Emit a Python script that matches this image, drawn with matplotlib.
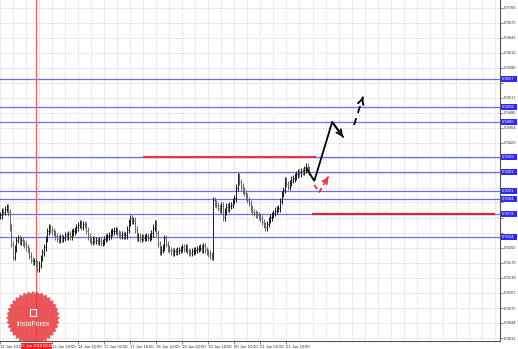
import matplotlib
matplotlib.use("Agg")
import matplotlib.pyplot as plt
from matplotlib.patches import Rectangle, Polygon
import numpy as np

# ---------------- data ----------------
closes = [
    0.9270, 0.9278, 0.9277, 0.9283, 0.9286, 0.9276, 0.9245, 0.9210, 0.9182, 0.9200,
    0.9218, 0.9222, 0.9214, 0.9218, 0.9212, 0.9209, 0.9203, 0.9197, 0.9185, 0.9176,
    0.9172, 0.9174, 0.9168, 0.9158, 0.9166, 0.9180, 0.9192, 0.9203, 0.9220, 0.9236,
    0.9245, 0.9240, 0.9236, 0.9233, 0.9226, 0.9221, 0.9218, 0.9224, 0.9220, 0.9222,
    0.9228, 0.9225, 0.9231, 0.9226, 0.9234, 0.9236, 0.9239, 0.9245, 0.9250, 0.9254,
    0.9246, 0.9252, 0.9250, 0.9238, 0.9225, 0.9218, 0.9214, 0.9220, 0.9216, 0.9218,
    0.9214, 0.9217, 0.9212, 0.9214, 0.9220, 0.9224, 0.9226, 0.9228, 0.9234, 0.9236,
    0.9238, 0.9239, 0.9233, 0.9230, 0.9228, 0.9231, 0.9227, 0.9228, 0.9240, 0.9255,
    0.9264, 0.9258, 0.9260, 0.9240, 0.9222, 0.9225, 0.9220, 0.9223, 0.9222, 0.9224,
    0.9226, 0.9223, 0.9225, 0.9232, 0.9244, 0.9254, 0.9233, 0.9210, 0.9193, 0.9198,
    0.9202, 0.9222, 0.9210, 0.9200, 0.9197, 0.9194, 0.9191, 0.9195, 0.9193, 0.9196,
    0.9197, 0.9199, 0.9203, 0.9200, 0.9202, 0.9195, 0.9192, 0.9191, 0.9194, 0.9196,
    0.9197, 0.9199, 0.9201, 0.9202, 0.9198, 0.9205, 0.9197, 0.9193, 0.9190, 0.9186,
    0.9183, 0.9302, 0.9295, 0.9292, 0.9286, 0.9281, 0.9290, 0.9266, 0.9278, 0.9288,
    0.9285, 0.9290, 0.9292, 0.9300, 0.9306, 0.9328, 0.9351, 0.9340, 0.9330, 0.9322,
    0.9317, 0.9310, 0.9302, 0.9296, 0.9285, 0.9277, 0.9275, 0.9272, 0.9271, 0.9268,
    0.9264, 0.9256, 0.9250, 0.9245, 0.9252, 0.9260, 0.9266, 0.9271, 0.9275, 0.9280,
    0.9283, 0.9285, 0.9300, 0.9315, 0.9323, 0.9344, 0.9336, 0.9330, 0.9338, 0.9345,
    0.9348, 0.9352, 0.9356, 0.9361, 0.9358, 0.9363, 0.9361, 0.9366, 0.9372, 0.9366,
    0.9361,
]

blue_levels = [0.9557, 0.9498, 0.9466, 0.9393, 0.9361, 0.9321, 0.9304, 0.9273, 0.9224]
red_upper_level = 0.9393
red_lower_level = 0.9273

price_ticks = ['0.9706', '0.9675', '0.9643', '0.9612', '0.9580', '0.9549', '0.9517',
               '0.9486', '0.9454', '0.9423', '0.9391', '0.9360', '0.9328', '0.9297',
               '0.9265', '0.9233', '0.9202', '0.9170', '0.9139', '0.9107', '0.9075',
               '0.9044', '0.9012']

time_labels = ['12 Jun 10:00', '13 Jun 18:00', '14 Jun 10:00',
               '17 Jun 02:00', '17 Jun 18:00', '18 Jun 10:00', '19 Jun 02:00',
               '19 Jun 18:00', '20 Jun 10:00', '21 Jun 02:00', '21 Jun 18:00']
time_label_bars = [0, 32, 48, 64, 80, 96, 112, 128, 144, 160, 176]

vline_bar = 22
vline_label = '13 Jun 2019 08:00'

# forecast paths (bar index, price)
fc_black_x = [188.2, 193.1, 204.1, 210.8]
fc_black_y = [0.93695, 0.93422, 0.94663, 0.94347]
fc_dash_x = [217.5, 223.0]
fc_dash_y = [0.94599, 0.95188]
fc_red_x = [193.1, 196.1, 201.6]
fc_red_y = [0.93338, 0.93190, 0.93506]

# ---------------- figure ----------------
W, H = 518, 349
FONT = 'Liberation Sans'
fig = plt.figure(figsize=(W / 100, H / 100), dpi=100)
fig.patch.set_facecolor('white')
ax = fig.add_axes([0, 8 / H, 500 / W, 341 / H])
ax.set_facecolor('white')

ax.set_xlim(2.14, 307.2)
ax.set_ylim(0.90057, 0.97228)
px_to_price = (0.97228 - 0.90057) / 341.0

# grid
ptick_vals = [float(s) for s in price_ticks]
for p in ptick_vals:
    ax.axhline(p, color='#d0d0d0', lw=0.6, ls=(0, (1.5, 1.5)), zorder=0)
for b in range(0, 312, 8):
    ax.axvline(b, color='#d0d0d0', lw=0.6, ls=(0, (1.5, 1.5)), zorder=0)

# bars (OHLC)
n = len(closes)
idx = np.arange(n)
opens = [closes[0]] + closes[:-1]
wick = 0.0007
highs = [max(o, c) + wick for o, c in zip(opens, closes)]
lows = [min(o, c) - wick for o, c in zip(opens, closes)]
cols = ['#1a1a1a' if c >= o else '#666666' for o, c in zip(opens, closes)]
ax.vlines(idx, lows, highs, colors=cols, lw=0.7, zorder=3)
ax.hlines(opens, idx - 0.6, idx, colors=cols, lw=0.5, zorder=3)
ax.hlines(closes, idx, idx + 0.6, colors=cols, lw=0.5, zorder=3)

# horizontal levels
for lv in blue_levels:
    ax.axhline(lv, color='#6b6bff', lw=0.9, zorder=2)
ax.hlines(red_upper_level, 87.6, 194.3, color='#e0384a', lw=1.6, zorder=4)
ax.hlines(red_lower_level, 191.9, 304.2, color='#d02840', lw=1.6, zorder=4)

# vertical red line
ax.axvline(vline_bar, color='#ff5a5a', lw=0.9, zorder=2)

# forecast arrows
ax.plot(fc_black_x, fc_black_y, color='black', lw=1.3, zorder=5,
        solid_capstyle='round', solid_joinstyle='miter')
ax.annotate('', xy=(fc_black_x[-1], fc_black_y[-1]),
            xytext=(fc_black_x[-2], fc_black_y[-2]),
            arrowprops=dict(arrowstyle='->', lw=1.3, color='black',
                            mutation_scale=10, shrinkA=0, shrinkB=0), zorder=5)
ax.plot(fc_dash_x, fc_dash_y, color='black', lw=1.3, ls=(0, (4, 3)), zorder=5)
ax.annotate('', xy=(fc_dash_x[-1], fc_dash_y[-1]),
            xytext=(fc_dash_x[-1] - 0.01 * (fc_dash_x[-1] - fc_dash_x[-2]),
                    fc_dash_y[-1] - 0.01 * (fc_dash_y[-1] - fc_dash_y[-2])),
            arrowprops=dict(arrowstyle='->', lw=1.3, color='black',
                            mutation_scale=10, shrinkA=0, shrinkB=0), zorder=5)
ax.plot(fc_red_x, fc_red_y, color='#ff2020', lw=1.2, ls=(0, (3, 2)), zorder=5)
ax.annotate('', xy=(fc_red_x[-1], fc_red_y[-1]),
            xytext=(fc_red_x[-1] - 0.01 * (fc_red_x[-1] - fc_red_x[-2]),
                    fc_red_y[-1] - 0.01 * (fc_red_y[-1] - fc_red_y[-2])),
            arrowprops=dict(arrowstyle='->', lw=1.2, color='#ff2020',
                            mutation_scale=9, shrinkA=0, shrinkB=0), zorder=5)

# axes/spines
for s in ['left', 'top']:
    ax.spines[s].set_visible(False)
for s in ['right', 'bottom']:
    ax.spines[s].set_color('#555555')
    ax.spines[s].set_linewidth(0.8)

ax.yaxis.tick_right()
ax.set_yticks(ptick_vals)
ax.set_yticklabels(price_ticks, fontfamily=FONT)
ax.tick_params(axis='y', length=2, width=0.5, pad=1.0, labelsize=3.0,
               labelcolor='#333333', color='#555555')
# tick labels covered by the highlighted level labels are hidden (as in MT4)
for p, lab in zip(ptick_vals, ax.get_yticklabels()):
    if any(abs(p - lv) < 5.5 * px_to_price for lv in blue_levels):
        lab.set_visible(False)

ax.set_xticks(time_label_bars)
ax.set_xticklabels(time_labels, fontfamily=FONT)
ax.tick_params(axis='x', length=2, width=0.5, pad=0.8, labelsize=3.0,
               labelcolor='#333333', color='#555555')
for lab in ax.get_xticklabels():
    lab.set_ha('left')

# highlighted price labels for levels
ytr = ax.get_yaxis_transform()
box_h = 6.5 * px_to_price
for lv in blue_levels:
    ax.add_patch(Rectangle((1.002, lv - box_h / 2), 15.5 / 500, box_h, transform=ytr,
                           facecolor='#2a2aff', edgecolor='none', clip_on=False, zorder=10))
    ax.text(1.004, lv, f'{lv:.4f}', transform=ytr, fontsize=3.0, color='white',
            va='center', ha='left', clip_on=False, zorder=11, fontfamily=FONT)

# red time label box on x-axis for vertical line
xtr = ax.get_xaxis_transform()
ax.add_patch(Rectangle((13.0, -8 / 341), 19.0, 6.5 / 341, transform=xtr,
                       facecolor='#ff1a1a', edgecolor='none', clip_on=False, zorder=10))
ax.text(22.6, -4.8 / 341, vline_label, transform=xtr, fontsize=2.9,
        color='white', ha='center', va='center', clip_on=False, zorder=11, fontfamily=FONT)

# InstaForex logo (star badge)
cx, cy = 33 / 500, (341 - 318) / 341
r_out, r_in = 27, 24.5
npts = 36
angs = np.linspace(0, 2 * np.pi, 2 * npts, endpoint=False)
rads = np.where(np.arange(2 * npts) % 2 == 0, r_out, r_in)
aspect_x = 1 / 500
aspect_y = 1 / 341
verts = np.column_stack([cx + rads * np.cos(angs) * aspect_x,
                         cy + rads * np.sin(angs) * aspect_y])
ax.add_patch(Polygon(verts, closed=True, transform=ax.transAxes,
                     facecolor='#e8383c', edgecolor='none', alpha=0.85, zorder=8))
ax.text(cx, cy - 6 * aspect_y, 'InstaForex', transform=ax.transAxes, fontsize=5.0,
        color='white', ha='center', va='center', zorder=9, fontfamily=FONT)
ax.add_patch(Rectangle((cx - 3 * aspect_x, cy + 2 * aspect_y), 6 * aspect_x, 7 * aspect_y,
                       transform=ax.transAxes, facecolor='none', edgecolor='white',
                       lw=0.7, zorder=9))

fig.savefig('out.png', dpi=100, facecolor='white')
